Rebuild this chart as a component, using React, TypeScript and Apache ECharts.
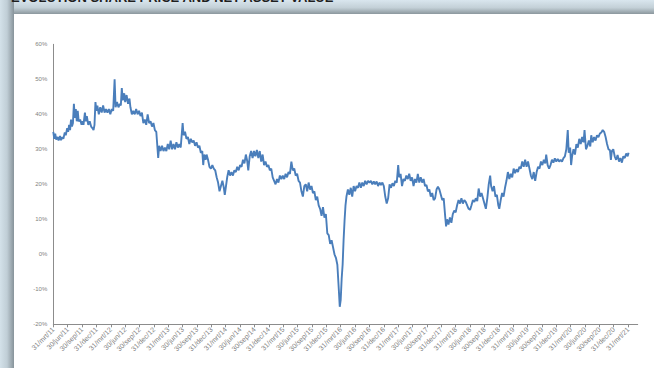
import React, { useEffect, useRef } from "react";
import * as echarts from "echarts";

// Months elapsed since 31/mrt/11
const months: number[] = [
  0, 0.2, 0.4, 0.6, 0.9, 1.1, 1.4, 1.6, 1.9, 2.1, 2.4, 2.6, 2.9, 3.1, 3.3, 3.5, 3.7, 3.9, 4.1, 4.3,
  4.5, 4.7, 4.9, 5.1, 5.3, 5.6, 5.9, 6.1, 6.3, 6.6, 6.8, 7.0, 7.3, 7.6, 7.9, 8.2, 8.4, 8.6, 8.8, 9.0,
  9.2, 9.5, 9.8, 10.1, 10.4, 10.7, 11.0, 11.3, 11.6, 11.9, 12.2, 12.5, 12.8, 13.0, 13.3, 13.6, 13.9, 14.1, 14.3, 14.5,
  14.8, 15.0, 15.3, 15.6, 15.9, 16.1, 16.4, 16.7, 17.0, 17.3, 17.6, 17.9, 18.2, 18.5, 18.8, 19.1, 19.4, 19.7, 20.0, 20.3,
  20.6, 20.9, 21.2, 21.5, 21.9, 22.1, 22.4, 22.7, 23.0, 23.3, 23.6, 23.9, 24.2, 24.5, 24.8, 25.1, 25.4, 25.7, 26.0, 26.3,
  26.6, 27.0, 27.2, 27.5, 27.8, 28.1, 28.4, 28.7, 29.0, 29.3, 29.6, 29.9, 30.2, 30.5, 30.8, 31.1, 31.3, 31.5, 31.8, 32.0,
  32.3, 32.6, 32.9, 33.2, 33.5, 33.8, 34.1, 34.4, 34.7, 35.0, 35.3, 35.6, 35.8, 36.0, 36.3, 36.6, 36.9, 37.2, 37.5, 37.8,
  38.1, 38.4, 38.7, 39.0, 39.3, 39.6, 39.9, 40.2, 40.5, 40.7, 41.0, 41.3, 41.6, 41.9, 42.2, 42.5, 42.8, 43.1, 43.4, 43.7,
  44.0, 44.3, 44.6, 44.9, 45.2, 45.5, 45.8, 46.1, 46.4, 46.7, 47.0, 47.3, 47.6, 47.9, 48.2, 48.5, 48.8, 49.1, 49.4, 49.7,
  50.0, 50.3, 50.6, 50.9, 51.2, 51.5, 51.8, 52.1, 52.4, 52.7, 53.0, 53.3, 53.6, 53.9, 54.2, 54.5, 54.8, 55.1, 55.4, 55.7,
  56.0, 56.3, 56.6, 56.9, 57.2, 57.5, 57.8, 58.1, 58.4, 58.7, 59.0, 59.3, 59.6, 59.8, 60.0, 60.2, 60.4, 60.6, 60.8, 61.0,
  61.2, 61.5, 61.8, 62.1, 62.4, 62.7, 63.0, 63.3, 63.6, 63.9, 64.2, 64.5, 64.8, 65.1, 65.4, 65.7, 66.0, 66.3, 66.6, 66.9,
  67.2, 67.5, 67.8, 68.1, 68.4, 68.7, 69.0, 69.3, 69.6, 69.9, 70.2, 70.5, 70.8, 71.1, 71.4, 71.7, 72.0, 72.2, 72.5, 72.8,
  73.1, 73.4, 73.7, 74.0, 74.3, 74.6, 74.9, 75.2, 75.5, 75.8, 76.1, 76.4, 76.7, 77.0, 77.3, 77.6, 77.9, 78.2, 78.5, 78.8,
  79.1, 79.4, 79.7, 80.0, 80.3, 80.6, 80.9, 81.2, 81.5, 81.8, 82.0, 82.2, 82.5, 82.8, 83.1, 83.4, 83.7, 84.0, 84.3, 84.6,
  84.9, 85.2, 85.5, 85.8, 86.1, 86.4, 86.7, 87.0, 87.3, 87.6, 87.9, 88.2, 88.5, 88.8, 89.1, 89.4, 89.7, 90.0, 90.3, 90.6,
  90.9, 91.2, 91.4, 91.7, 92.0, 92.3, 92.6, 92.9, 93.1, 93.4, 93.7, 94.0, 94.3, 94.6, 94.9, 95.2, 95.5, 95.8, 96.1, 96.4,
  96.7, 97.0, 97.3, 97.6, 97.9, 98.2, 98.5, 98.8, 99.1, 99.4, 99.7, 100.0, 100.3, 100.6, 100.9, 101.2, 101.5, 101.8, 102.1, 102.4,
  102.7, 102.9, 103.2, 103.5, 103.8, 104.1, 104.4, 104.7, 105.0, 105.3, 105.6, 105.9, 106.2, 106.5, 106.8, 107.1, 107.4, 107.6, 107.9, 108.1,
  108.3, 108.6, 108.9, 109.2, 109.5, 109.8, 110.1, 110.4, 110.7, 110.9, 111.2, 111.5, 111.8, 112.1, 112.3, 112.6, 112.9, 113.2, 113.5, 113.8,
  114.1, 114.4, 114.7, 115.0, 115.3, 115.6, 115.9, 116.2, 116.4, 116.6, 116.9, 117.2, 117.5, 117.8, 118.1, 118.4, 118.7, 119.0, 119.3, 119.6,
  119.9, 120.1,
];

// Discount (%)
const values: number[] = [
  35, 33, 34.5, 32.8, 33.5, 32.5, 33.8, 32.6, 33.5, 33, 34.8, 34, 36, 35, 37, 35.5, 38.5, 36.5, 37.5, 43,
  39, 41.5, 38, 41, 38, 38.5, 37, 38, 37, 40.5, 38, 39.5, 37, 38, 36.5, 36, 35.5, 37, 43.5, 41,
  42.5, 40, 42, 40.5, 42.5, 40.5, 41.5, 40.5, 41.5, 40, 41.5, 41, 50, 42, 43.5, 42, 43, 42.5, 47.5, 44,
  46, 43.5, 45.5, 43, 44.5, 42, 40, 41, 40, 41.5, 40, 41, 39.5, 40.5, 37.5, 38.5, 37, 40, 37.5, 38,
  36.5, 37.5, 35.5, 35, 27.5, 31, 29.5, 31, 29.5, 30.5, 29.5, 31.5, 30, 32.5, 30, 31.5, 30, 32, 30.5, 31.5,
  30.5, 37.5, 34, 35, 33, 33.5, 31.5, 33, 32, 32.5, 31, 32, 30.5, 31, 29, 29.5, 25.5, 28.5, 27, 28.5,
  27, 25, 24.5, 25.5, 24.5, 24, 22, 20.5, 18, 19.5, 21, 19, 17, 19, 22, 24, 22.5, 23.5, 22.5, 24,
  23.5, 25, 24, 25.5, 25, 27, 26, 28.5, 26.5, 24, 28, 29.5, 27.5, 29.5, 28, 29.8, 27.5, 29.5, 26.5, 28.5,
  25.5, 26.5, 25, 25.5, 24, 24.5, 22, 21, 20, 21.5, 20.5, 22.5, 21.5, 22.5, 21.5, 23, 22, 23.5, 23, 26.5,
  24, 24.5, 22.5, 23, 21, 20.5, 18, 16.5, 19.5, 20, 18, 20.5, 18.5, 19.5, 17.5, 18, 15.5, 16.5, 14, 13,
  11, 13.5, 10.5, 11.5, 6, 5.5, 3, 4, 2, 0, -1, -3, -10, -15, -13, -7, -3, 4, 9.5, 14,
  16.5, 18.5, 17, 19, 16.5, 19.5, 18, 19.5, 19, 20.5, 19, 20.5, 19.5, 21, 20, 21, 20.5, 21, 20, 20.8,
  20, 20.8, 19.5, 20.5, 19.8, 20.5, 19.5, 16.5, 14.5, 16, 20, 19, 20.3, 19.5, 21, 20.5, 25.5, 22, 23, 19.5,
  21.5, 21, 22.5, 21.5, 23, 21, 22, 19.5, 21.5, 20.5, 23, 20.5, 22, 20.5, 21.5, 19.5, 19.8, 18, 18.5, 16.5,
  17.5, 15.5, 16, 18.5, 19.3, 18.5, 17, 15.5, 16, 11, 8, 10, 8.5, 10.5, 9, 11.5, 12.5, 12, 14, 15.5,
  14.5, 16, 14.5, 15.5, 15, 14, 13, 12.7, 14, 15.5, 15, 16, 15.2, 18.8, 16.5, 17.5, 16, 14.5, 13, 16,
  20, 22.5, 19.5, 18, 19.5, 16.5, 17, 14, 13, 15.5, 17.5, 16.5, 19, 21, 23.5, 21.5, 23, 22, 24.5, 23.2,
  24.3, 23.5, 25, 24.5, 26.5, 25, 27, 25, 26.5, 24.5, 22.5, 21.5, 23.5, 21, 23.5, 25, 24.5, 26.5, 25.5, 27,
  26, 28.5, 25.5, 24.5, 25.5, 27, 26.2, 27.4, 26.5, 27.2, 26.5, 27, 26.5, 27.5, 28, 30, 35.5, 29, 30.5, 25.5,
  28, 30, 28.5, 31.5, 30.5, 33, 31.5, 33.5, 32, 35.5, 30, 31, 32.5, 30.8, 34, 32, 33.5, 32.5, 34, 33.5,
  34.5, 34.8, 35.5, 35, 33.5, 31.5, 30, 29.8, 27, 29.5, 30, 28, 27, 28.4, 26.5, 27.5, 26.2, 28, 27.5, 28.8,
  28, 29,
];

const tickMonths: number[] = [
  0, 3, 6, 9, 12, 15, 18, 21, 24, 27, 30, 33, 36, 39, 42, 45, 48, 51, 54, 57, 60,
  63, 66, 69, 72, 75, 78, 81, 84, 87, 90, 93, 96, 99, 102, 105, 108, 111, 114, 117, 120,
];

const tickLabels: string[] = [
  "31/mrt/11", "30/jun/11", "30/sep/11", "31/dec/11",
  "31/mrt/12", "30/jun/12", "30/sep/12", "31/dec/12",
  "31/mrt/13", "30/jun/13", "30/sep/13", "31/dec/13",
  "31/mrt/14", "30/jun/14", "30/sep/14", "31/dec/14",
  "31/mrt/15", "30/jun/15", "30/sep/15", "31/dec/15",
  "31/mrt/16", "30/jun/16", "30/sep/16", "31/dec/16",
  "31/mrt/17", "30/jun/17", "30/sep/17", "31/dec/17",
  "31/mrt/18", "30/jun/18", "30/sep/18", "31/dec/18",
  "31/mrt/19", "30/jun/19", "30/sep/19", "31/dec/19",
  "31/mrt/20", "30/jun/20", "30/sep/20", "31/dec/20",
  "31/mrt/21",
];

const TITLE = "EVOLUTION SHARE PRICE AND NET ASSET VALUE";

export default function App() {
  const ref = useRef<HTMLDivElement>(null);

  useEffect(() => {
    if (!ref.current) return;
    const chart = echarts.init(ref.current, null, { renderer: "svg" });
    const font = "'Liberation Sans', Arial, sans-serif";
    const axisGray = "#8c8c8c";
    const labelGray = "#7f7f7f";

    chart.setOption({
      animation: false,
      backgroundColor: "#d6e4ec",
      graphic: [
        {
          type: "rect",
          z: -10,
          shape: { x: 0, y: 0, width: 654, height: 14 },
          style: {
            fill: new echarts.graphic.LinearGradient(0, 0, 0, 1, [
              { offset: 0, color: "#d9e6ee" },
              { offset: 0.55, color: "#c3d0d7" },
              { offset: 1, color: "#8b979d" },
            ]),
          },
          silent: true,
        },
        {
          type: "rect",
          z: -10,
          shape: { x: 0, y: 0, width: 14, height: 368 },
          style: {
            fill: new echarts.graphic.LinearGradient(0, 0, 1, 0, [
              { offset: 0, color: "#d3e1e9" },
              { offset: 0.5, color: "#c0ced6" },
              { offset: 1, color: "#87939a" },
            ]),
          },
          silent: true,
        },
        {
          type: "rect",
          z: -9,
          shape: { x: 14, y: 14, width: 640, height: 354 },
          style: { fill: "#ffffff" },
          silent: true,
        },
        {
          type: "text",
          z: 10,
          x: 11,
          y: 4,
          style: {
            text: TITLE,
            font: `bold 13px ${font}`,
            fill: "#1f1f1f",
            verticalAlign: "bottom",
          },
          silent: true,
        },
      ],
      grid: { left: 53.3, right: 16.3, top: 44.3, bottom: 43.7, containLabel: false },
      xAxis: {
        type: "value",
        min: 0,
        max: 122,
        splitLine: { show: false },
        axisLine: { show: true, onZero: false, lineStyle: { color: axisGray, width: 1 } },
        axisTick: {
          show: true,
          customValues: tickMonths,
          length: 3,
          lineStyle: { color: axisGray, width: 1 },
        },
        axisLabel: {
          customValues: tickMonths,
          rotate: 45,
          fontSize: 7,
          fontFamily: font,
          color: labelGray,
          margin: 4,
          formatter: (v: number) => tickLabels[Math.round(v / 3)] ?? "",
        },
      },
      yAxis: {
        type: "value",
        min: -20,
        max: 60,
        interval: 10,
        splitLine: { show: false },
        axisLine: { show: true, onZero: false, lineStyle: { color: axisGray, width: 1 } },
        axisTick: { show: false },
        axisLabel: {
          fontSize: 6,
          fontFamily: font,
          color: labelGray,
          margin: 6,
          formatter: "{value}%",
        },
      },
      series: [
        {
          type: "line",
          data: months.map((m, i) => [m, values[i]]),
          showSymbol: false,
          symbol: "none",
          lineStyle: { color: "#4a7ebb", width: 1.9 },
          emphasis: { disabled: true },
        },
      ],
    });

    return () => chart.dispose();
  }, []);

  return (
    <div
      ref={ref}
      style={{ position: "fixed", left: 0, top: 0, width: 654, height: 368 }}
    />
  );
}
